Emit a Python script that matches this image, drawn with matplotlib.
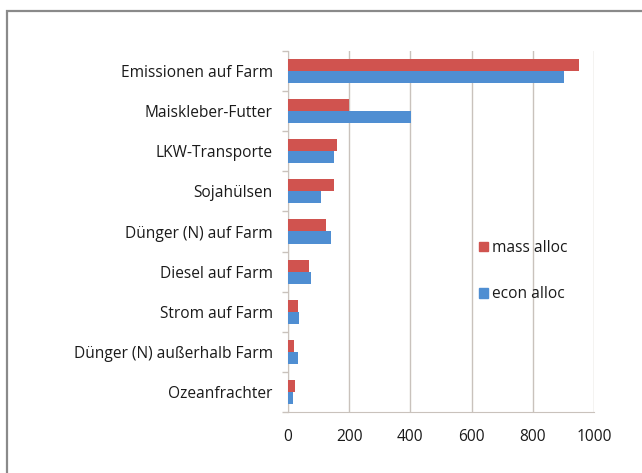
import numpy as np
import matplotlib.pyplot as plt
from matplotlib.patches import Patch, Rectangle

# Quellen der Emissionen und Werte für beide Allokationsmethoden
kategorien = ['Emissionen auf Farm', 'Maiskleber-Futter', 'LKW-Transporte',
              'Sojahülsen', 'Dünger (N) auf Farm', 'Diesel auf Farm',
              'Strom auf Farm', 'Dünger (N) außerhalb Farm', 'Ozeanfrachter']
mass_alloc = [951, 199, 160, 151, 124, 69, 34, 20, 24]
econ_alloc = [902, 401, 150, 107, 140, 75, 36, 34, 15]
x_ticks = [0, 200, 400, 600, 800, 1000]

plt.rcParams['font.family'] = ['Open Sans', 'DejaVu Sans']
rot = '#D0534F'
blau = '#4F8ED2'
grau = '#C9C2BC'
text = '#1A1A1A'
fs = 11.2

fig = plt.figure(figsize=(6.42, 4.73), dpi=100)
fig.patch.set_facecolor('white')

# grauer Rahmen um die Grafik
fig.patches.append(Rectangle((7 / 642, -0.1), 1.2, 1 - 11 / 473 + 0.1,
                             transform=fig.transFigure, fill=False,
                             edgecolor='#8A8A8A', linewidth=1.6))

ax = fig.add_axes([288 / 642, 61 / 473, 306 / 642, 361 / 473])

y = np.arange(len(kategorien))
h = 0.3
ax.barh(y - h / 2, mass_alloc, height=h, color=rot, label='mass alloc', zorder=3)
ax.barh(y + h / 2, econ_alloc, height=h, color=blau, label='econ alloc', zorder=3)

ax.set_xlim(0, 1000)
ax.set_ylim(len(kategorien) - 0.5, -0.5)
ax.set_xticks(x_ticks)
ax.set_yticks(y)
ax.set_yticklabels(kategorien, fontsize=fs, color=text, fontweight='medium')
ax.set_yticks(np.arange(len(kategorien) + 1) - 0.5, minor=True)
ax.tick_params(axis='y', which='major', length=0, pad=11)
ax.tick_params(axis='y', which='minor', length=4, color=grau, width=1)
ax.tick_params(axis='x', length=0, pad=12, labelsize=fs, labelcolor=text)
for t in ax.get_xticklabels():
    t.set_fontweight('medium')

ax.grid(axis='x', color=grau, linewidth=1, zorder=0)
for s in ['top', 'right']:
    ax.spines[s].set_visible(False)
ax.spines['left'].set_color(grau)
ax.spines['bottom'].set_color(grau)

handles = [Patch(color=rot), Patch(color=blau)]
leg = ax.legend(handles, ['mass alloc', 'econ alloc'], loc='upper left',
                bbox_to_anchor=(0.58, 0.515), frameon=False, fontsize=fs,
                handlelength=0.55, handleheight=0.55, handletextpad=0.25,
                labelspacing=1.95, labelcolor=text)
for t in leg.get_texts():
    t.set_fontweight('medium')

plt.savefig('out.png', dpi=100)
plt.close()
